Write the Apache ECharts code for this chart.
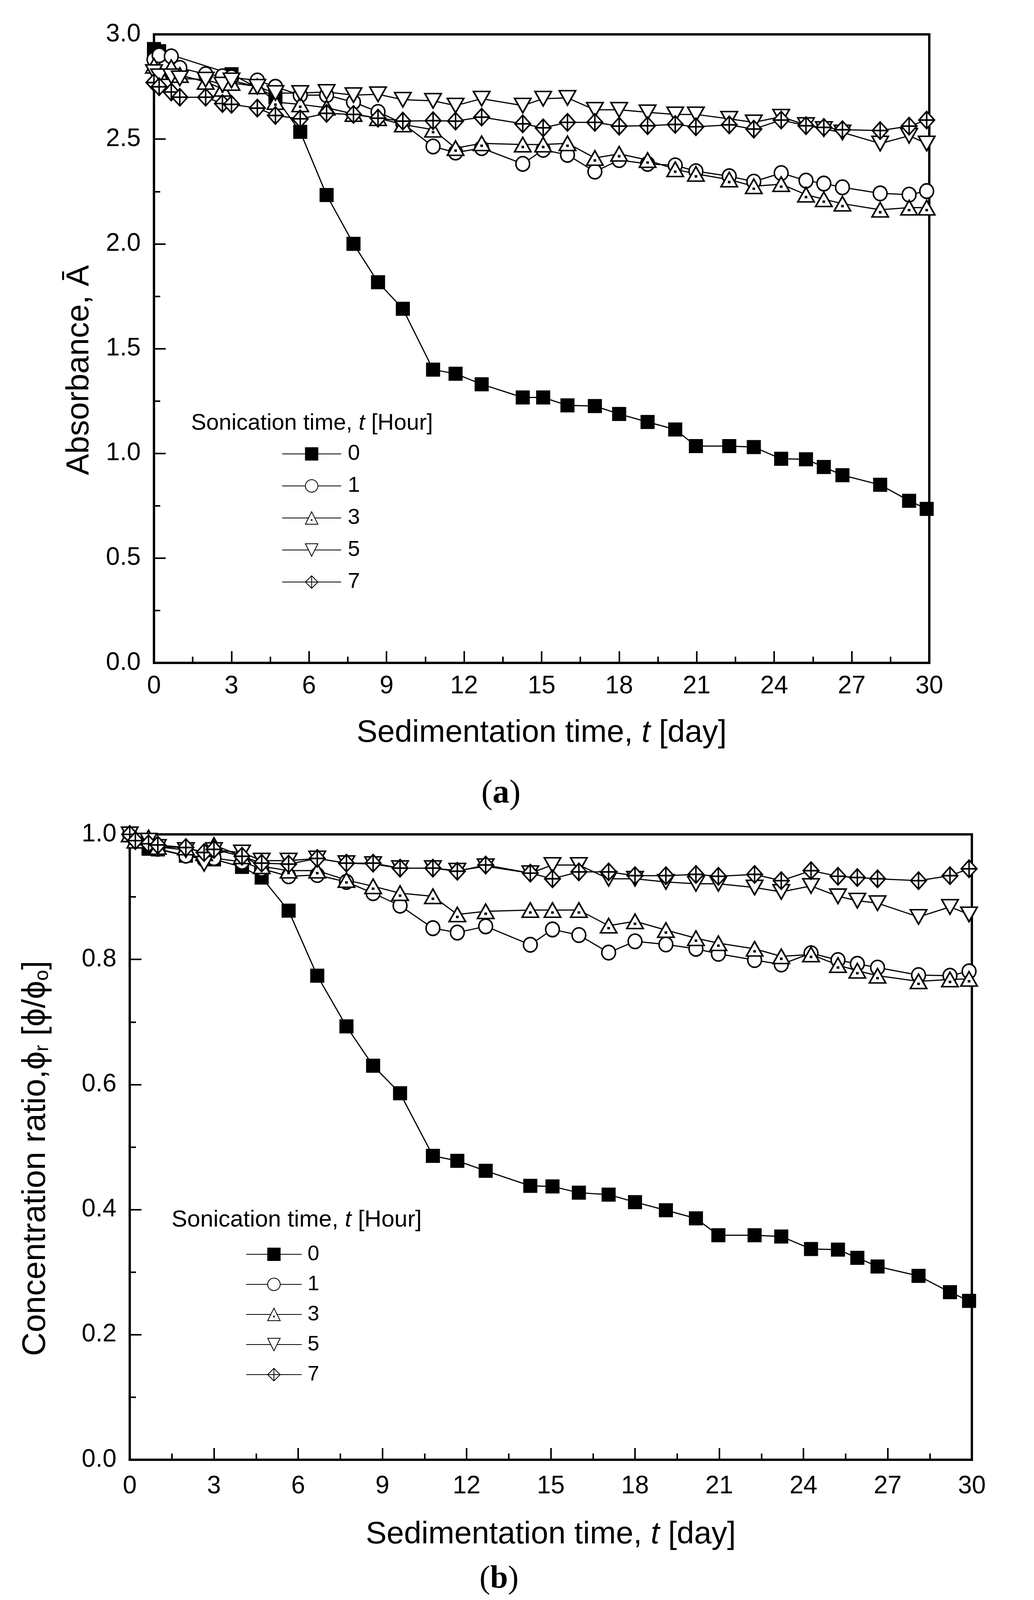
<!DOCTYPE html>
<html><head><meta charset="utf-8">
<script src="https://cdn.jsdelivr.net/npm/echarts@6/dist/echarts.min.js"></script>
<style>html,body{margin:0;padding:0;background:#fff}#c{width:2646px;height:4119px}</style>
</head><body><div id="c"></div>
<script>
// Sedimentation time (day)
const days = [0, 0.2, 0.67, 1.0, 2.0, 2.65, 3.0, 4.0, 4.7, 5.66, 6.68, 7.72, 8.67, 9.63, 10.8, 11.67, 12.68, 14.27, 15.06, 16.0, 17.06, 18.0, 19.1, 20.17, 20.97, 22.26, 23.21, 24.27, 25.23, 25.92, 26.64, 28.1, 29.22, 29.9];
const xTicks = [0, 3, 6, 9, 12, 15, 18, 21, 24, 27, 30];
const sonication = ['0', '1', '3', '5', '7'];

// (a) Absorbance
const absH0 = [2.93, 2.92, null, null, null, null, 2.81, null, 2.70, 2.535, 2.233, 2.0, 1.817, 1.69, 1.40, 1.38, 1.33, 1.267, 1.267, 1.229, 1.226, 1.188, 1.15, 1.114, 1.035, 1.035, 1.03, 0.974, 0.972, 0.935, 0.896, 0.85, 0.774, 0.735];
const absH1 = [2.88, 2.90, 2.895, 2.84, 2.81, 2.80, 2.795, 2.78, 2.75, 2.71, 2.71, 2.677, 2.63, 2.575, 2.465, 2.436, 2.457, 2.382, 2.449, 2.425, 2.345, 2.40, 2.382, 2.375, 2.347, 2.323, 2.297, 2.338, 2.302, 2.288, 2.27, 2.241, 2.235, 2.252];
const absH3 = [2.85, 2.82, 2.843, 2.806, 2.773, 2.74, 2.768, 2.752, 2.677, 2.666, 2.65, 2.62, 2.60, 2.57, 2.545, 2.457, 2.48, 2.474, 2.474, 2.48, 2.41, 2.43, 2.40, 2.356, 2.334, 2.307, 2.275, 2.285, 2.235, 2.213, 2.192, 2.163, 2.173, 2.173];
const absH5 = [2.82, 2.80, 2.80, 2.79, 2.784, 2.76, 2.78, 2.75, 2.72, 2.72, 2.725, 2.71, 2.714, 2.688, 2.683, 2.66, 2.693, 2.66, 2.693, 2.697, 2.64, 2.64, 2.628, 2.618, 2.618, 2.597, 2.58, 2.607, 2.567, 2.548, 2.532, 2.479, 2.516, 2.479];
const absH7 = [2.77, 2.75, 2.725, 2.70, 2.70, 2.67, 2.666, 2.648, 2.613, 2.597, 2.623, 2.618, 2.60, 2.586, 2.588, 2.586, 2.605, 2.573, 2.554, 2.58, 2.58, 2.562, 2.564, 2.570, 2.559, 2.568, 2.548, 2.591, 2.564, 2.556, 2.545, 2.541, 2.562, 2.591];

// (b) Concentration ratio
const phiH0 = [1.0, 0.99, 0.977, 0.976, 0.966, null, 0.96, 0.948, 0.931, 0.878, 0.774, 0.693, 0.630, 0.586, 0.486, 0.478, 0.462, 0.438, 0.437, 0.427, 0.424, 0.412, 0.399, 0.386, 0.359, 0.359, 0.357, 0.337, 0.336, 0.323, 0.309, 0.294, 0.268, 0.254];
const phiH1 = [1.0, 0.99, 0.985, 0.977, 0.966, 0.96, 0.962, 0.956, 0.945, 0.933, 0.935, 0.924, 0.906, 0.886, 0.850, 0.843, 0.853, 0.8235, 0.848, 0.839, 0.811, 0.829, 0.824, 0.817, 0.809, 0.799, 0.792, 0.810, 0.799, 0.793, 0.787, 0.775, 0.774, 0.781];
const phiH3 = [1.0, 0.99, 0.995, 0.98, 0.979, 0.97, 0.983, 0.965, 0.949, 0.942, 0.942, 0.927, 0.917, 0.906, 0.901, 0.872, 0.877, 0.879, 0.879, 0.879, 0.854, 0.861, 0.847, 0.834, 0.826, 0.817, 0.805, 0.808, 0.791, 0.782, 0.774, 0.765, 0.768, 0.769];
const phiH5 = [1.0, 0.99, 0.99, 0.98, 0.975, 0.953, 0.975, 0.971, 0.958, 0.958, 0.9615, 0.954, 0.9525, 0.946, 0.946, 0.942, 0.949, 0.938, 0.951, 0.951, 0.929, 0.929, 0.924, 0.921, 0.921, 0.915, 0.908, 0.9175, 0.901, 0.894, 0.890, 0.868, 0.884, 0.872];
const phiH7 = [1.0, 0.99, 0.985, 0.983, 0.979, 0.971, 0.976, 0.965, 0.954, 0.9525, 0.9615, 0.954, 0.954, 0.946, 0.946, 0.941, 0.951, 0.938, 0.929, 0.940, 0.940, 0.934, 0.934, 0.936, 0.933, 0.936, 0.926, 0.942, 0.933, 0.931, 0.929, 0.926, 0.934, 0.945];

const FONT = 'Liberation Sans';
const symbols = {
  '0': {symbol: 'rect', size: 32, fill: '#000'},
  '1': {symbol: 'circle', size: [35, 37], fill: '#fff'},
  '3': {symbol: 'path://M0,17.3 L10,0 L20,17.3 Z M9.4,11.0 L10.6,11.0 L10.6,12.2 L9.4,12.2 Z', size: [42, 37], fill: '#fff'},
  '5': {symbol: 'path://M0,0 L20,0 L10,17.3 Z', size: [42, 37], fill: '#fff'},
  '7': {symbol: 'path://M10,0 L20,11 L10,22 L0,11 Z M10,0 L10,22 M0,11 L20,11', size: [40, 44], fill: '#fff'}
};

function mk(name, vals, idx) {
  const s = symbols[name];
  const data = [];
  days.forEach((d, i) => { if (vals[i] !== null) data.push([d, vals[i]]); });
  return {
    type: 'line', name: name, xAxisIndex: idx, yAxisIndex: idx,
    data: data, symbol: s.symbol, symbolSize: s.size, showSymbol: true,
    lineStyle: {color: '#000', width: 3},
    itemStyle: {color: s.fill, borderColor: '#000', borderWidth: 4},
    emphasis: {disabled: true}, animation: false, clip: true
  };
}

function xAx(idx, margin, gap) {
  return {
    type: 'value', gridIndex: idx, min: xTicks[0], max: xTicks[xTicks.length - 1], interval: 3,
    axisLine: {show: true, lineStyle: {color: '#000', width: 6}},
    axisTick: {show: true, inside: true, length: 30, lineStyle: {color: '#000', width: 4}},
    minorTick: {show: true, splitNumber: 2, length: 16, lineStyle: {color: '#000', width: 4}},
    splitLine: {show: false},
    axisLabel: {fontSize: 64, fontFamily: FONT, color: '#000', margin: margin},
    name: 'Sedimentation time, {i|t} [day]', nameLocation: 'middle', nameGap: gap,
    nameTextStyle: {fontSize: 80, fontFamily: FONT, color: '#000',
      rich: {i: {fontSize: 80, fontFamily: FONT, fontStyle: 'italic', color: '#000'}}}
  };
}
function yAx(idx, max, interval, name, gap, size, pad, rich) {
  return {
    type: 'value', gridIndex: idx, min: 0, max: max, interval: interval,
    axisLine: {show: true, lineStyle: {color: '#000', width: 6}},
    axisTick: {show: true, inside: true, length: 30, lineStyle: {color: '#000', width: 4}},
    minorTick: {show: true, splitNumber: 2, length: 16, lineStyle: {color: '#000', width: 4}},
    splitLine: {show: false},
    axisLabel: {fontSize: 64, fontFamily: FONT, color: '#000', margin: 34, formatter: v => v.toFixed(1)},
    name: name, nameLocation: 'middle', nameGap: gap, nameRotate: 90,
    nameTextStyle: {fontSize: size, fontFamily: FONT, color: '#000', padding: pad, rich: rich}
  };
}

const chart = echarts.init(document.getElementById('c'), null, {renderer: 'canvas'});
const italic = {fontStyle: 'italic', fontFamily: FONT, color: '#000'};
chart.setOption({
  backgroundColor: '#fff',
  animation: false,
  grid: [
    {left: 394, top: 88, width: 1984, height: 1609, show: true, borderColor: '#000', borderWidth: 6, backgroundColor: 'transparent'},
    {left: 332, top: 2136, width: 2155, height: 1601, show: true, borderColor: '#000', borderWidth: 6, backgroundColor: 'transparent'}
  ],
  xAxis: [xAx(0, 28, 140), xAx(1, 36, 152)],
  yAxis: [
    yAx(0, 3.0, 0.5, 'Absorbance, Ā', 150, 82, [0, 110, 0, 0], {}),
    yAx(1, 1.0, 0.2, 'Concentration ratio,ϕ{s|r} [ϕ/ϕ{s|o}]', 198, 84, [0, 58, 0, 0],
      {s: {fontSize: 50, fontFamily: FONT, color: '#000', verticalAlign: 'bottom'}})
  ],
  title: [
    {text: '({b|a})', left: 1282, top: 1990, textAlign: 'center', padding: 0,
      textStyle: {fontSize: 86, fontFamily: 'Liberation Serif', fontWeight: 'normal', color: '#000',
        rich: {b: {fontSize: 86, fontFamily: 'Liberation Serif', fontWeight: 'bold', color: '#000'}}}},
    {text: '({b|b})', left: 1277, top: 4002, textAlign: 'center', padding: 0,
      textStyle: {fontSize: 82, fontFamily: 'Liberation Serif', fontWeight: 'normal', color: '#000',
        rich: {b: {fontSize: 82, fontFamily: 'Liberation Serif', fontWeight: 'bold', color: '#000'}}}},
    {text: 'Sonication time, {i|t} [Hour]', left: 489, top: 1055, padding: 0,
      textStyle: {fontSize: 58, fontFamily: FONT, fontWeight: 'normal', color: '#000', rich: {i: Object.assign({fontSize: 58}, italic)}}},
    {text: 'Sonication time, {i|t} [Hour]', left: 439, top: 3093, padding: 0,
      textStyle: {fontSize: 60, fontFamily: FONT, fontWeight: 'normal', color: '#000', rich: {i: Object.assign({fontSize: 60}, italic)}}}
  ],
  legend: [
    {data: sonication, orient: 'vertical', left: 721, top: 1134, padding: 0, itemWidth: 151, itemHeight: 40, itemGap: 26,
      textStyle: {fontSize: 56, fontFamily: FONT, color: '#000', padding: [0, 0, 0, 12]}, selectedMode: false},
    {data: sonication, orient: 'vertical', left: 629, top: 3184, padding: 0, itemWidth: 142, itemHeight: 40, itemGap: 23,
      textStyle: {fontSize: 54, fontFamily: FONT, color: '#000', padding: [0, 0, 0, 10]}, selectedMode: false}
  ],
  series: [
    mk('0', absH0, 0), mk('1', absH1, 0), mk('3', absH3, 0), mk('5', absH5, 0), mk('7', absH7, 0),
    mk('0', phiH0, 1), mk('1', phiH1, 1), mk('3', phiH3, 1), mk('5', phiH5, 1), mk('7', phiH7, 1)
  ]
});
</script></body></html>
